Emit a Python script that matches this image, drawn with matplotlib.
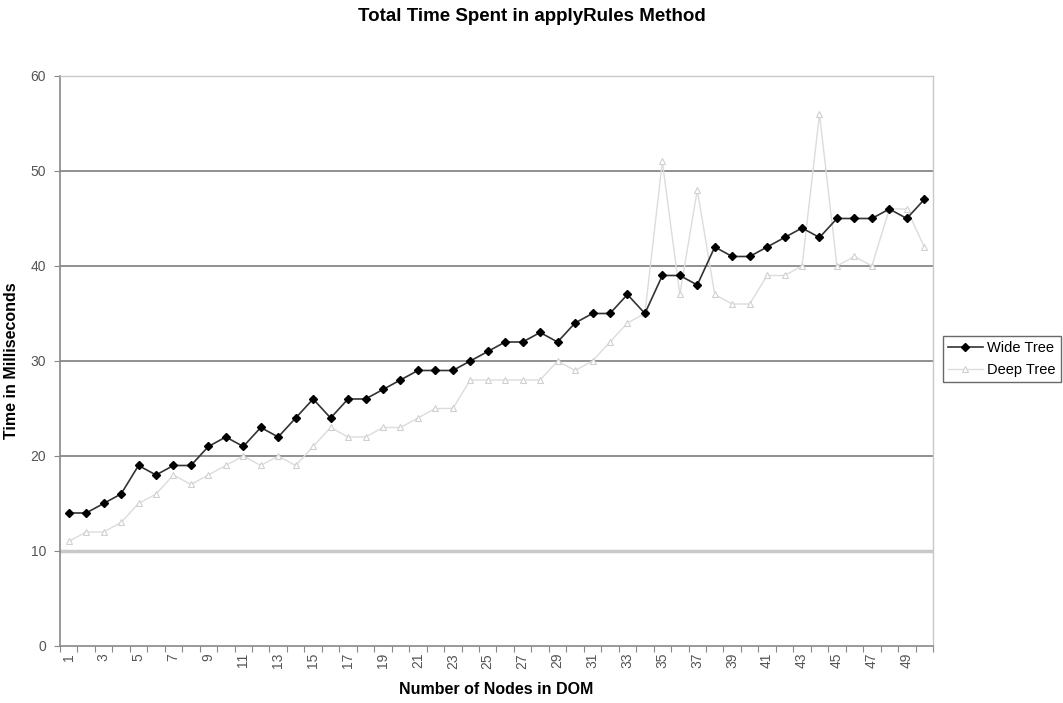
import numpy as np
import matplotlib
matplotlib.use("Agg")
import matplotlib.pyplot as plt

# number of nodes in the DOM (1..50)
nodes = list(range(1, 51))

wide_tree = [14, 14, 15, 16, 19, 18, 19, 19, 21, 22,
             21, 23, 22, 24, 26, 24, 26, 26, 27, 28,
             29, 29, 29, 30, 31, 32, 32, 33, 32, 34,
             35, 35, 37, 35, 39, 39, 38, 42, 41, 41,
             42, 43, 44, 43, 45, 45, 45, 46, 45, 47]

deep_tree = [11, 12, 12, 13, 15, 16, 18, 17, 18, 19,
             20, 19, 20, 19, 21, 23, 22, 22, 23, 23,
             24, 25, 25, 28, 28, 28, 28, 28, 30, 29,
             30, 32, 34, 35, 51, 37, 48, 37, 36, 36,
             39, 39, 40, 56, 40, 41, 40, 46, 46, 42]

y_ticks = [0, 10, 20, 30, 40, 50, 60]

plt.rcParams['font.family'] = ['Liberation Sans', 'DejaVu Sans']

fig = plt.figure(figsize=(10.63, 7.03), dpi=100)
ax = fig.add_axes([0.0564, 0.0811, 0.8213, 0.8108])

x = np.arange(len(nodes))

# horizontal gridlines
for v in y_ticks[1:-1]:
    if v == 10:
        ax.axhline(v, color="#c8c8c8", lw=2.5, zorder=1)
    else:
        ax.axhline(v, color="#888888", lw=1.3, zorder=1)

ax.plot(x, deep_tree, color="#dcdcdc", lw=1.0, marker="^", ms=4,
        mfc="white", mec="#d0d0d0", mew=0.8, label="Deep Tree", zorder=2)
ax.plot(x, wide_tree, color="#333333", lw=1.2, marker="D", ms=4.5,
        mfc="black", mec="black", label="Wide Tree", zorder=3)

ax.set_xlim(-0.5, len(nodes) - 0.5)
ax.set_ylim(0, 60)
ax.set_yticks(y_ticks)
ax.set_yticklabels([str(v) for v in y_ticks], fontsize=10, color="#555555")

# category axis: ticks between categories, labels on odd categories
ax.set_xticks(np.arange(len(nodes) + 1) - 0.5)
ax.set_xticklabels([])
ax.set_xticks(x[::2], minor=True)
ax.set_xticklabels([str(n) for n in nodes[::2]], minor=True,
                   rotation=90, fontsize=10, color="#555555")
ax.tick_params(axis="x", which="minor", length=0, pad=5)
ax.tick_params(axis="x", which="major", length=4, color="#888888", direction="out")
ax.tick_params(axis="y", length=4, color="#888888", direction="out", pad=6)

for side in ["left", "bottom"]:
    ax.spines[side].set_color("#888888")
    ax.spines[side].set_linewidth(1.2)
for side in ["top", "right"]:
    ax.spines[side].set_color("#c8c8c8")
    ax.spines[side].set_linewidth(1.0)

ax.set_xlabel("Number of Nodes in DOM", fontsize=11.5, fontweight="bold", va="center")
ax.xaxis.set_label_coords(0.5, -0.077)
ax.set_ylabel("Time in Milliseconds", fontsize=11.5, fontweight="bold", va="center")
ax.yaxis.set_label_coords(-0.055, 0.5)
fig.suptitle("Total Time Spent in applyRules Method", fontsize=13.5,
             fontweight="bold", y=0.976, va="center")

handles, labels = ax.get_legend_handles_labels()
leg = fig.legend(handles[::-1], labels[::-1], loc="center left",
                 bbox_to_anchor=(0.887, 0.489), fontsize=10.5, frameon=True,
                 fancybox=False, edgecolor="#444444", handlelength=2.4,
                 borderpad=0.35, labelspacing=0.55, handletextpad=0.3,
                 borderaxespad=0)
leg.get_frame().set_linewidth(1.0)

fig.savefig("out.png", dpi=100, facecolor="white")
